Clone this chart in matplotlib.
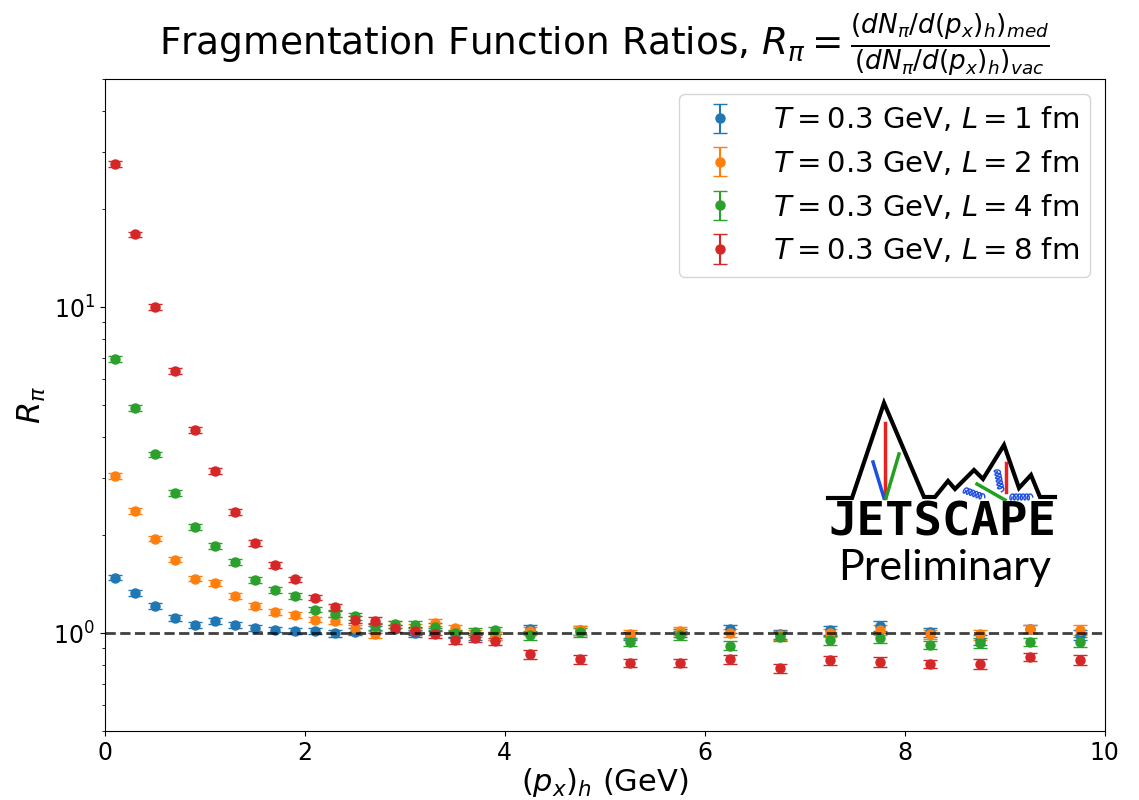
import numpy as np
import matplotlib
matplotlib.use("Agg")
import matplotlib.pyplot as plt

# transverse momentum bins (GeV)
px = [0.1, 0.3, 0.5, 0.7, 0.9, 1.1, 1.3, 1.5, 1.7, 1.9,
      2.1, 2.3, 2.5, 2.7, 2.9, 3.1, 3.3, 3.5, 3.7, 3.9,
      4.25, 4.75, 5.25, 5.75, 6.25, 6.75, 7.25, 7.75, 8.25, 8.75, 9.25, 9.75]

r_L1 = [1.48, 1.33, 1.21, 1.11, 1.06, 1.09, 1.06, 1.035, 1.025, 1.015,
        1.015, 1.00, 1.01, 1.025, 1.03, 1.00, 1.01, 0.99, 0.975, 0.98,
        1.03, 1.02, 0.98, 1.00, 1.03, 0.99, 1.02, 1.05, 1.005, 0.955, 1.03, 0.985]
r_L2 = [3.04, 2.37, 1.95, 1.68, 1.47, 1.425, 1.30, 1.21, 1.16, 1.135,
        1.10, 1.09, 1.035, 0.99, 1.06, 1.04, 1.075, 1.035, 1.00, 0.98,
        1.015, 1.02, 0.99, 1.015, 1.00, 0.985, 1.00, 1.025, 0.99, 0.99, 1.03, 1.02]
r_L4 = [6.92, 4.91, 3.53, 2.69, 2.12, 1.85, 1.65, 1.455, 1.355, 1.30,
        1.18, 1.145, 1.125, 1.05, 1.065, 1.06, 1.045, 1.00, 1.01, 1.02,
        0.985, 1.005, 0.94, 0.985, 0.915, 0.975, 0.95, 0.965, 0.92, 0.93, 0.94, 0.94]
r_L8 = [27.5, 16.7, 10.0, 6.37, 4.20, 3.14, 2.35, 1.89, 1.62, 1.46,
        1.285, 1.20, 1.10, 1.09, 1.035, 1.015, 0.99, 0.95, 0.965, 0.945,
        0.86, 0.83, 0.81, 0.81, 0.83, 0.78, 0.825, 0.815, 0.805, 0.805, 0.845, 0.825]

# relative statistical errors
rel_err = [0.02, 0.02, 0.02, 0.02, 0.02, 0.02, 0.02, 0.02, 0.02, 0.02,
           0.02, 0.025, 0.025, 0.025, 0.025, 0.025, 0.025, 0.025, 0.025, 0.025,
           0.03, 0.03, 0.03, 0.03, 0.03, 0.03, 0.03, 0.035, 0.03, 0.035, 0.03, 0.035]

labels = [r'$T=0.3$ GeV, $L=1$ fm', r'$T=0.3$ GeV, $L=2$ fm',
          r'$T=0.3$ GeV, $L=4$ fm', r'$T=0.3$ GeV, $L=8$ fm']
series = [r_L1, r_L2, r_L4, r_L8]
colors = ['#1f77b4', '#ff7f0e', '#2ca02c', '#d62728']

fig = plt.figure(figsize=(11.39, 8), dpi=100)
ax = fig.add_axes([0.092, 0.086, 0.878, 0.815])

for vals, lab, c in zip(series, labels, colors):
    v = np.array(vals)
    ax.errorbar(px, v, yerr=v * np.array(rel_err), fmt='o', color=c,
                markersize=6.5, capsize=5, elinewidth=1.5, label=lab)

ax.axhline(1.0, color='k', ls='--', lw=2, alpha=0.75, zorder=5)
ax.set_yscale('log')
ax.set_xlim(0, 10)
ax.set_ylim(0.5, 50)
ax.tick_params(labelsize=17)
ax.set_xlabel(r'$(p_x)_h$ (GeV)', fontsize=22, labelpad=1)
ax.set_ylabel(r'$R_\pi$', fontsize=23)
ax.set_title(r'Fragmentation Function Ratios, $R_\pi = \frac{(dN_\pi/d(p_x)_h)_{med}}{(dN_\pi/d(p_x)_h)_{vac}}$',
             fontsize=27, pad=8)
ax.legend(loc='upper right', fontsize=21)

# JETSCAPE preliminary logo (drawn in pixel-like coordinates)
lg = fig.add_axes([820 / 1139, 1 - 600 / 800, 250 / 1139, 210 / 800])
lg.set_xlim(820, 1070)
lg.set_ylim(600, 390)
lg.axis('off')
mx = [828, 852, 884, 924, 935, 948, 955, 974, 983, 1004, 1019, 1031, 1040, 1055]
my = [498, 498, 403, 497, 497, 481, 489, 470, 479, 445, 488, 475, 497, 497]
lg.plot(mx, my, color='k', lw=3, solid_joinstyle='miter')
lg.plot([885, 885], [423, 498], color='#e8231f', lw=2.5)
lg.plot([873, 884], [462, 498], color='#1e4fe0', lw=2.5)
lg.plot([899, 886], [454, 498], color='#22a020', lw=2.5)
lg.plot([1006, 1006], [463, 492], color='#e8231f', lw=2.5)
lg.plot([977, 1005], [484, 500], color='#22a020', lw=2.5)

def coil(x0, y0, x1, y1, n=8, r=3):
    t = np.linspace(0, 1, 200)
    dx, dy = x1 - x0, y1 - y0
    ln = np.hypot(dx, dy)
    ux, uy = dx / ln, dy / ln
    nx, ny = -uy, ux
    w = np.sin(2 * np.pi * n * t) * r
    u = np.cos(2 * np.pi * n * t) * r * 0.6
    lg.plot(x0 + dx * t + ux * u + nx * w, y0 + dy * t + uy * u + ny * w,
            color='#1e4fe0', lw=1)

coil(964, 490, 983, 497, n=6)
coil(997, 470, 1001, 490, n=6)
coil(1010, 497, 1031, 497, n=6)

lg.text(942, 523, 'JETSCAPE', family='DejaVu Sans Mono', fontweight='bold',
        fontsize=34, ha='center', va='center', color='k')
lg.text(945, 580, 'Preliminary', family='Lato', fontsize=31,
        ha='center', va='baseline', color='k')

fig.savefig('out.png', dpi=100)
